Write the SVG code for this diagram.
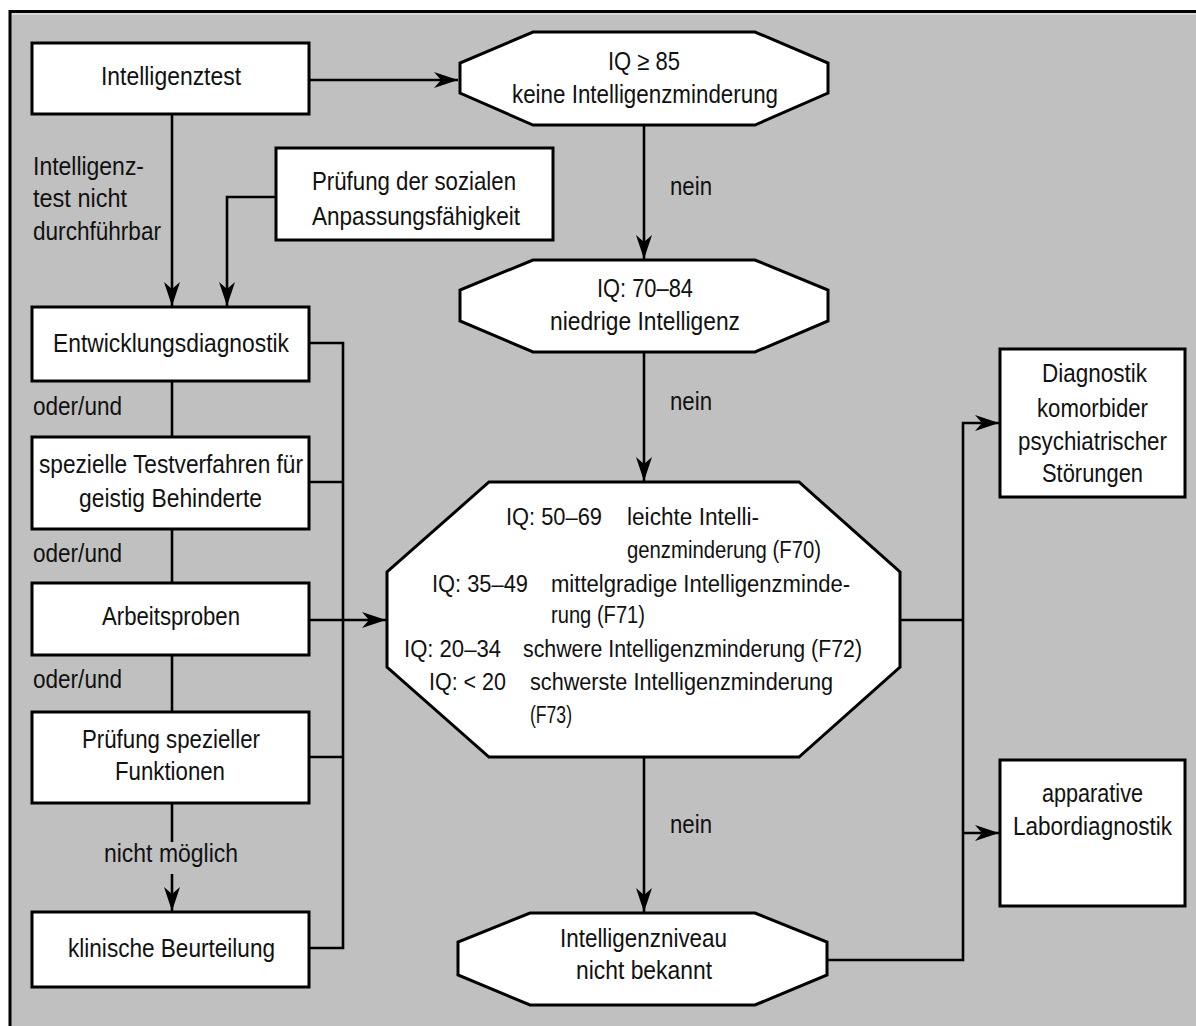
<svg xmlns="http://www.w3.org/2000/svg" width="1196" height="1026" viewBox="0 0 1196 1026">
<style>
.box{fill:#fff;stroke:#000;stroke-width:3}
.ln{fill:none;stroke:#000;stroke-width:2.6}
.t{font-family:"Liberation Sans Narrow","Liberation Sans",Arial,sans-serif;font-size:26px;fill:#111}
.s{font-size:23px}
</style>
<defs>
<marker id="ah" markerUnits="userSpaceOnUse" markerWidth="26" markerHeight="20" refX="24" refY="9" orient="auto">
<path d="M0,1 L24,9 L0,17 L7,9 z" fill="#000"/>
</marker>
</defs>
<rect x="0" y="0" width="1196" height="1026" fill="#fff"/>
<rect x="10" y="11.5" width="1200" height="1030" fill="#c0c0c0" stroke="#000" stroke-width="3"/>
<line x1="12" y1="14" x2="1196" y2="14" stroke="#e2e2e2" stroke-width="1.5"/>

<g id="connectors">
<line class="ln" x1="309" y1="80" x2="458" y2="80" marker-end="url(#ah)"/>
<line class="ln" x1="172" y1="114" x2="172" y2="306" marker-end="url(#ah)"/>
<polyline class="ln" points="276,197 227,197 227,306" marker-end="url(#ah)"/>
<line class="ln" x1="644" y1="125" x2="644" y2="259" marker-end="url(#ah)"/>
<line class="ln" x1="644" y1="352" x2="644" y2="481" marker-end="url(#ah)"/>
<line class="ln" x1="644" y1="757" x2="644" y2="912" marker-end="url(#ah)"/>
<line class="ln" x1="172" y1="381" x2="172" y2="437"/>
<line class="ln" x1="172" y1="529" x2="172" y2="583"/>
<line class="ln" x1="172" y1="655" x2="172" y2="712"/>
<line class="ln" x1="172" y1="803" x2="172" y2="842"/>
<line class="ln" x1="172" y1="874" x2="172" y2="911" marker-end="url(#ah)"/>
<polyline class="ln" points="309,343 343,343 343,948 309,948"/>
<line class="ln" x1="309" y1="482" x2="343" y2="482"/>
<line class="ln" x1="309" y1="757" x2="343" y2="757"/>
<line class="ln" x1="309" y1="620" x2="386" y2="620" marker-end="url(#ah)"/>
<line class="ln" x1="898" y1="620" x2="963" y2="620"/>
<polyline class="ln" points="827,960 963,960 963,423 999,423" marker-end="url(#ah)"/>
<line class="ln" x1="963" y1="833" x2="999" y2="833" marker-end="url(#ah)"/>
</g>

<g id="n-intelligenztest">
<rect class="box" x="32" y="43" width="277" height="71"/>
<text class="t" x="101" y="85" textLength="140" lengthAdjust="spacingAndGlyphs">Intelligenztest</text>
</g>
<g id="lbl-nicht-durchfuehrbar">
<text class="t" x="33" y="175" textLength="111" lengthAdjust="spacingAndGlyphs">Intelligenz-</text>
<text class="t" x="33" y="207" textLength="94" lengthAdjust="spacingAndGlyphs">test nicht</text>
<text class="t" x="33" y="240" textLength="128" lengthAdjust="spacingAndGlyphs">durchführbar</text>
</g>
<g id="n-soziale">
<rect class="box" x="276" y="148" width="277" height="92"/>
<text class="t" x="312" y="190" textLength="204" lengthAdjust="spacingAndGlyphs">Prüfung der sozialen</text>
<text class="t" x="312" y="225" textLength="208" lengthAdjust="spacingAndGlyphs">Anpassungsfähigkeit</text>
</g>
<g id="n-iq85">
<polygon class="box" points="533,32 755,32 828,63 828,93 755,125 533,125 460,93 460,63"/>
<text class="t" x="608" y="70" textLength="72" lengthAdjust="spacingAndGlyphs">IQ ≥ 85</text>
<text class="t" x="512" y="103" textLength="266" lengthAdjust="spacingAndGlyphs">keine Intelligenzminderung</text>
</g>
<text class="t" x="670" y="195" textLength="42" lengthAdjust="spacingAndGlyphs">nein</text>
<g id="n-iq70">
<polygon class="box" points="533,260 755,260 828,290 828,321 755,352 533,352 460,321 460,290"/>
<text class="t" x="597" y="297" textLength="96" lengthAdjust="spacingAndGlyphs">IQ: 70–84</text>
<text class="t" x="550" y="330" textLength="190" lengthAdjust="spacingAndGlyphs">niedrige Intelligenz</text>
</g>
<text class="t" x="670" y="410" textLength="42" lengthAdjust="spacingAndGlyphs">nein</text>

<g id="n-entwicklung">
<rect class="box" x="32" y="307" width="277" height="74"/>
<text class="t" x="53" y="352" textLength="236" lengthAdjust="spacingAndGlyphs">Entwicklungsdiagnostik</text>
</g>
<text class="t" x="33" y="415" textLength="89" lengthAdjust="spacingAndGlyphs">oder/und</text>
<g id="n-spezielle">
<rect class="box" x="32" y="437" width="277" height="92"/>
<text class="t" x="39" y="473" textLength="264" lengthAdjust="spacingAndGlyphs">spezielle Testverfahren für</text>
<text class="t" x="79" y="507" textLength="183" lengthAdjust="spacingAndGlyphs">geistig Behinderte</text>
</g>
<text class="t" x="33" y="562" textLength="89" lengthAdjust="spacingAndGlyphs">oder/und</text>
<g id="n-arbeitsproben">
<rect class="box" x="32" y="583" width="277" height="72"/>
<text class="t" x="102" y="625" textLength="138" lengthAdjust="spacingAndGlyphs">Arbeitsproben</text>
</g>
<text class="t" x="33" y="688" textLength="89" lengthAdjust="spacingAndGlyphs">oder/und</text>
<g id="n-funktionen">
<rect class="box" x="32" y="712" width="277" height="91"/>
<text class="t" x="82" y="748" textLength="178" lengthAdjust="spacingAndGlyphs">Prüfung spezieller</text>
<text class="t" x="115" y="780" textLength="110" lengthAdjust="spacingAndGlyphs">Funktionen</text>
</g>
<text class="t" x="104" y="862" textLength="134" lengthAdjust="spacingAndGlyphs">nicht möglich</text>
<g id="n-klinisch">
<rect class="box" x="32" y="912" width="277" height="75"/>
<text class="t" x="68" y="957" textLength="207" lengthAdjust="spacingAndGlyphs">klinische Beurteilung</text>
</g>

<g id="n-iq-stufen">
<polygon class="box" points="489,482 799,482 900,572 900,667 799,757 489,757 387,667 387,572"/>
<text class="t s" x="506" y="525" textLength="96" lengthAdjust="spacingAndGlyphs">IQ: 50–69</text>
<text class="t s" x="627" y="525" textLength="132" lengthAdjust="spacingAndGlyphs">leichte Intelli-</text>
<text class="t s" x="627" y="558" textLength="194" lengthAdjust="spacingAndGlyphs">genzminderung (F70)</text>
<text class="t s" x="432" y="592" textLength="96" lengthAdjust="spacingAndGlyphs">IQ: 35–49</text>
<text class="t s" x="551" y="592" textLength="299" lengthAdjust="spacingAndGlyphs">mittelgradige Intelligenzminde-</text>
<text class="t s" x="551" y="623" textLength="94" lengthAdjust="spacingAndGlyphs">rung (F71)</text>
<text class="t s" x="404" y="657" textLength="97" lengthAdjust="spacingAndGlyphs">IQ: 20–34</text>
<text class="t s" x="523" y="657" textLength="339" lengthAdjust="spacingAndGlyphs">schwere Intelligenzminderung (F72)</text>
<text class="t s" x="429" y="690" textLength="77" lengthAdjust="spacingAndGlyphs">IQ: &lt; 20</text>
<text class="t s" x="530" y="690" textLength="303" lengthAdjust="spacingAndGlyphs">schwerste Intelligenzminderung</text>
<text class="t s" x="530" y="723" textLength="42" lengthAdjust="spacingAndGlyphs">(F73)</text>
</g>
<text class="t" x="670" y="833" textLength="42" lengthAdjust="spacingAndGlyphs">nein</text>
<g id="n-unbekannt">
<polygon class="box" points="530,913 755,913 827,942 827,975 755,1005 530,1005 458,975 458,942"/>
<text class="t" x="560" y="947" textLength="167" lengthAdjust="spacingAndGlyphs">Intelligenzniveau</text>
<text class="t" x="576" y="979" textLength="136" lengthAdjust="spacingAndGlyphs">nicht bekannt</text>
</g>

<g id="n-komorbid">
<rect class="box" x="1000" y="349" width="185" height="148"/>
<text class="t" x="1042" y="382" textLength="105" lengthAdjust="spacingAndGlyphs">Diagnostik</text>
<text class="t" x="1037" y="417" textLength="111" lengthAdjust="spacingAndGlyphs">komorbider</text>
<text class="t" x="1018" y="450" textLength="149" lengthAdjust="spacingAndGlyphs">psychiatrischer</text>
<text class="t" x="1042" y="482" textLength="101" lengthAdjust="spacingAndGlyphs">Störungen</text>
</g>
<g id="n-labor">
<rect class="box" x="1000" y="760" width="185" height="146"/>
<text class="t" x="1042" y="802" textLength="101" lengthAdjust="spacingAndGlyphs">apparative</text>
<text class="t" x="1013" y="835" textLength="159" lengthAdjust="spacingAndGlyphs">Labordiagnostik</text>
</g>
</svg>
